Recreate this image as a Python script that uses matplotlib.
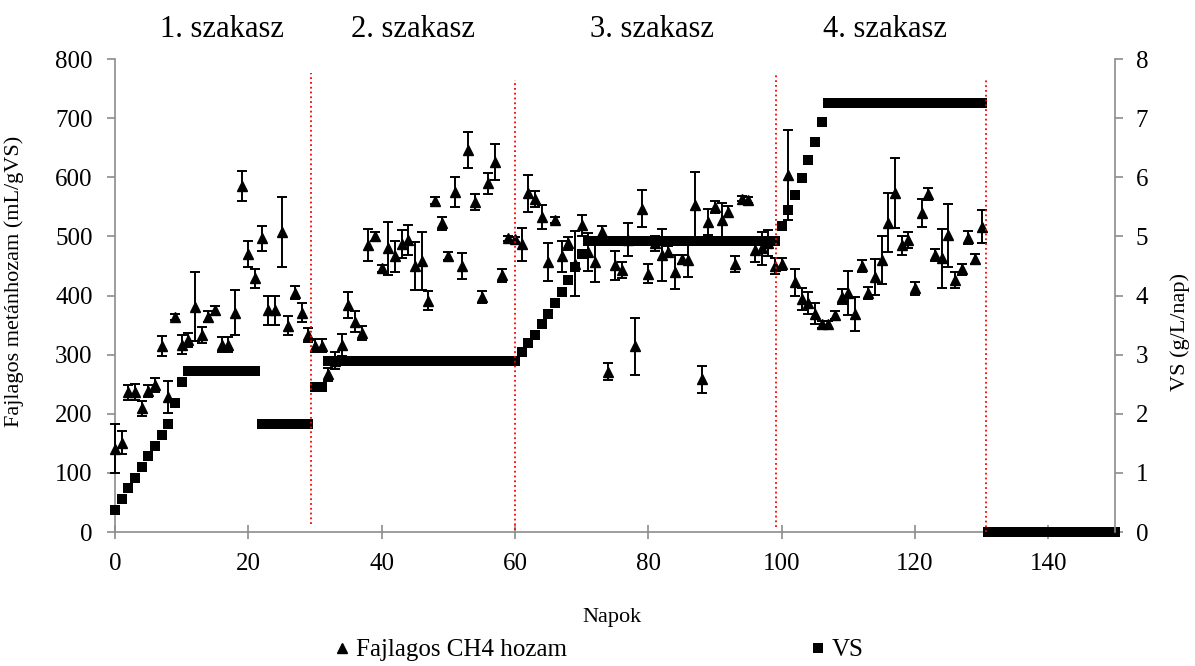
import matplotlib
matplotlib.use("Agg")
import matplotlib.pyplot as plt
from matplotlib.lines import Line2D

plt.rcParams['font.family'] = ['Liberation Serif', 'DejaVu Serif']

# napi fajlagos metánhozam (mL/gVS) és szórás
days = list(range(0, 131))
ch4_yield = [141, 151, 236, 237, 209, 238, 249, 315, 229, 363,
             317, 325, 381, 333, 364, 375, 317, 317, 371, 585,
             470, 429, 497, 375, 375, 507, 349, 405, 371, 333,
             315, 315, 267, 290, 316, 384, 356, 336, 485, 500,
             446, 480, 466, 487, 494, 450, 459, 391, 560, 522,
             467, 575, 450, 646, 558, 398, 590, 626, 434, 497,
             495, 487, 573, 563, 533, 457, 528, 466, 488, 454,
             519, 474, 457, 508, 271, 451, 443, 494, 314, 547,
             437, 488, 468, 474, 440, 461, 460, 553, 258, 524,
             550, 527, 542, 453, 564, 561, 477, 480, 488, 450,
             453, 604, 422, 394, 387, 369, 351, 351, 367, 398,
             404, 369, 450, 404, 431, 460, 523, 573, 485, 494,
             412, 540, 572, 468, 463, 502, 426, 444, 498, 462,
             516]
ch4_err = [42, 19, 13, 14, 13, 10, 12, 17, 27, 5,
           16, 12, 58, 13, 9, 8, 12, 12, 38, 26,
           22, 16, 21, 25, 25, 59, 16, 11, 16, 12,
           11, 11, 11, 15, 19, 22, 18, 12, 27, 8,
           6, 45, 27, 23, 25, 40, 49, 16, 6, 11,
           7, 25, 22, 30, 14, 10, 18, 30, 11, 4,
           4, 28, 31, 13, 20, 32, 5, 26, 11, 55,
           18, 32, 35, 9, 14, 25, 14, 28, 48, 31,
           16, 13, 44, 9, 29, 7, 28, 56, 23, 22,
           10, 30, 9, 14, 5, 5, 20, 28, 22, 13,
           10, 76, 23, 18, 19, 18, 6, 6, 6, 13,
           37, 29, 10, 10, 30, 41, 50, 59, 16, 14,
           11, 24, 10, 10, 50, 53, 13, 9, 11, 8,
           28]

# VS terhelés (g/L/nap)
vs_days = list(range(0, 151))
vs_load = [0.38, 0.56, 0.74, 0.92, 1.10, 1.28, 1.46, 1.64, 1.82, 2.18,
           2.54, 2.72, 2.72, 2.72, 2.72, 2.72, 2.72, 2.72, 2.72, 2.72,
           2.72, 2.72, 1.82, 1.82, 1.82, 1.82, 1.82, 1.82, 1.82, 1.82,
           2.45, 2.45, 2.89, 2.89, 2.89, 2.89, 2.89, 2.89, 2.89, 2.89,
           2.89, 2.89, 2.89, 2.89, 2.89, 2.89, 2.89, 2.89, 2.89, 2.89,
           2.89, 2.89, 2.89, 2.89, 2.89, 2.89, 2.89, 2.89, 2.89, 2.89,
           2.89, 3.04, 3.19, 3.34, 3.51, 3.68, 3.87, 4.06, 4.26, 4.49,
           4.70, 4.93, 4.93, 4.93, 4.93, 4.93, 4.93, 4.93, 4.93, 4.93,
           4.93, 4.93, 4.93, 4.93, 4.93, 4.93, 4.93, 4.93, 4.93, 4.93,
           4.93, 4.93, 4.93, 4.93, 4.93, 4.93, 4.93, 4.93, 4.93, 4.93,
           5.18, 5.44, 5.70, 5.99, 6.29, 6.60, 6.93, 7.26, 7.26, 7.26,
           7.26, 7.26, 7.26, 7.26, 7.26, 7.26, 7.26, 7.26, 7.26, 7.26,
           7.26, 7.26, 7.26, 7.26, 7.26, 7.26, 7.26, 7.26, 7.26, 7.26,
           7.26, 0, 0, 0, 0, 0, 0, 0, 0, 0,
           0, 0, 0, 0, 0, 0, 0, 0, 0, 0,
           0]

section_labels = ["1. szakasz", "2. szakasz", "3. szakasz", "4. szakasz"]
section_centers = [16.0, 44.7, 80.6, 115.5]
boundaries = [29.4, 60.0, 99.1, 130.6]
boundary_tops = [776, 764, 773, 764]
boundary_bottoms = [14, 3, 8, 0]

grey = '#8c8c8c'

fig = plt.figure(figsize=(11.95, 6.66), dpi=100)
ax = fig.add_axes([0.0962, 0.2012, 0.8368, 0.7102])

ax.errorbar(days, ch4_yield, yerr=ch4_err, fmt='^', color='black', ms=7.5,
            capsize=3.6, elinewidth=1.4, capthick=1.4, clip_on=False, zorder=3)

ax2 = ax.twinx()
ax2.plot(vs_days, vs_load, 's', color='black', ms=7.5, mew=0, clip_on=False)

# szakaszhatárok
for bx, bb, bt in zip(boundaries, boundary_bottoms, boundary_tops):
    ax2.plot([bx, bx], [bb, bt], color='red', ls=':', lw=1.3,
             transform=ax.transData, clip_on=False)

for lab, cx in zip(section_labels, section_centers):
    ax.text(cx, 1.062, lab, transform=ax.get_xaxis_transform(),
            ha='center', va='center', fontsize=22)

ax.set_xlim(0, 150)
ax.set_ylim(0, 800)
ax2.set_ylim(0, 8)
ax.set_xticks(range(0, 141, 20))
ax.set_yticks(range(0, 801, 100))
ax2.set_yticks(range(0, 9))

for a in (ax, ax2):
    a.spines['top'].set_visible(False)
    for s in a.spines.values():
        s.set_color(grey)
        s.set_linewidth(1.2)
ax2.spines['left'].set_visible(False)
ax2.spines['bottom'].set_visible(False)
ax.spines['right'].set_visible(False)

ax.tick_params(axis='y', direction='out', length=6, width=1.2, color=grey,
               pad=10, labelsize=18)
ax.tick_params(axis='x', direction='inout', length=10, width=1.2, color=grey,
               pad=10, labelsize=18)
ax2.tick_params(axis='y', direction='out', length=6, width=1.2, color=grey,
                pad=9, labelsize=18)

ax.set_ylabel('Fajlagos metánhozam (mL/gVS)', fontsize=16)
ax.yaxis.set_label_coords(-0.091, 0.529)
ax2.set_ylabel('VS (g/L/nap)', fontsize=16, rotation=90)
ax2.yaxis.set_label_coords(1.055, 0.423)
ax.set_xlabel('Napok', fontsize=16)
ax.xaxis.set_label_coords(0.497, -0.161)

handles = [Line2D([], [], marker='^', ls='none', color='black', ms=7),
           Line2D([], [], marker='s', ls='none', color='black', ms=7, mew=0)]
fig.legend(handles, ['Fajlagos CH4 hozam', 'VS'], loc='center',
           bbox_to_anchor=(0.502, 0.024), ncol=2, frameon=False, fontsize=18,
           handlelength=0.5, handletextpad=0.3, columnspacing=9.8)

fig.savefig('out.png', dpi=100)
